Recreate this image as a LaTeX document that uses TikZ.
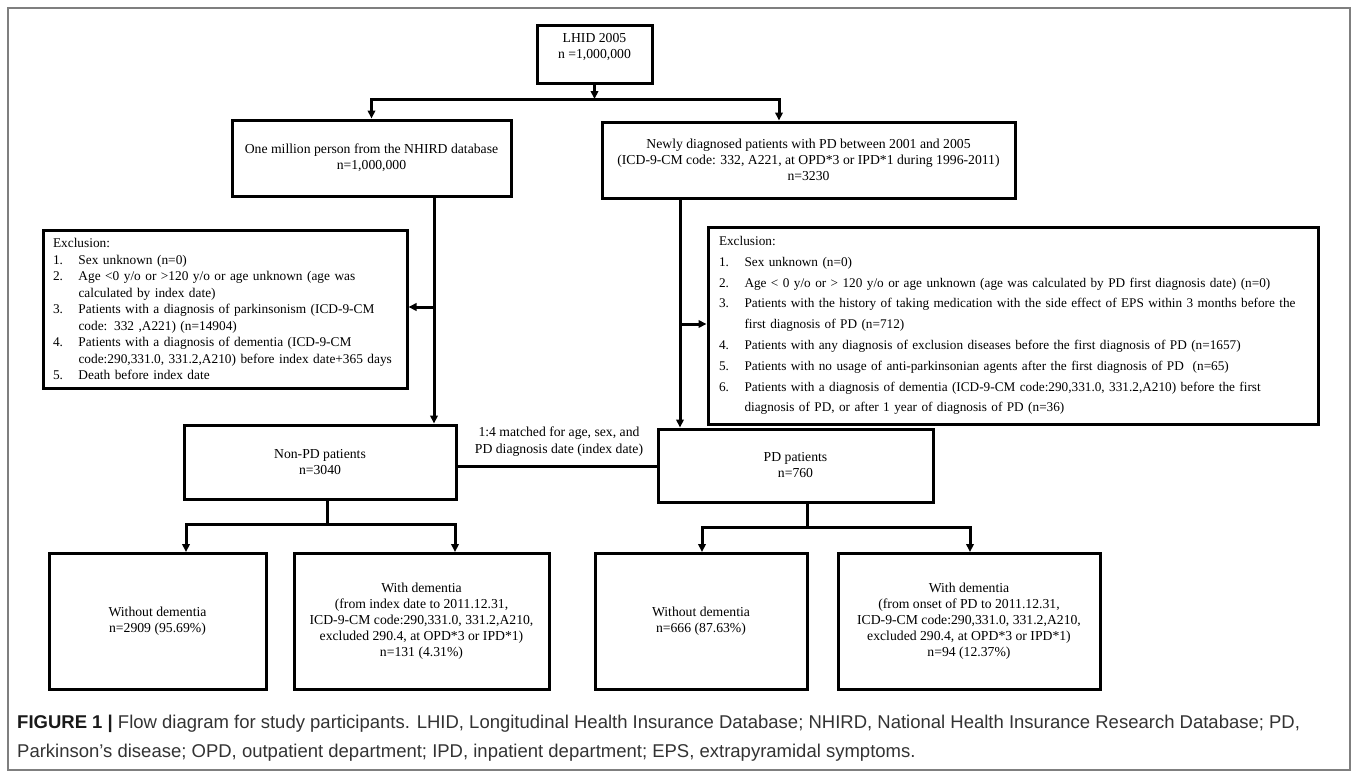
\documentclass[tikz,border=0pt]{standalone}
\usepackage{fontspec}
\setmainfont{Liberation Serif}
\newfontfamily\legenda{Liberation Sans}
\usetikzlibrary{arrows.meta}

% item numerado das caixas de exclusao
\newcommand{\excl}[2]{\mbox{\makebox[25.5pt][l]{#1}#2}}

\begin{document}
\begin{tikzpicture}[x=1pt, y=-1pt,
        caixa/.style={draw=black, line width=3pt, align=center, inner sep=4pt,
            font=\fontsize{13.7}{16}\selectfont},
        linha/.style={line width=3pt},
        seta/.style={line width=3pt, -{Triangle[length=8pt, width=7.5pt]}}]
        % Cores
        \definecolor{moldura}{HTML}{7F7F7F}
        \definecolor{textolegenda}{HTML}{333333}

        \useasboundingbox (0,0) rectangle (1357,777);

        % Moldura da figura
        \draw[moldura, line width=1.3pt] (8,8) rectangle (1350,770);

        % Caixas do topo
        \node[caixa, minimum width=115pt, minimum height=58pt] (lhid) at (594.5,54) {LHID 2005\\n =1,000,000\\[1pt]\mbox{}};
        \node[caixa, minimum width=279pt, minimum height=76pt] (onem) at (371.5,158) {One million person from the NHIRD database\\n=1,000,000};
        \node[caixa, minimum width=413pt, minimum height=76pt] (newpd) at (808.5,160) {Newly diagnosed patients with PD between 2001 and 2005\\(ICD-9-CM code: 332, A221, at OPD*3 or IPD*1 during 1996-2011)\\n=3230};

        % Caixas de exclusao
        \node[caixa, align=left, text width=344pt, inner xsep=10pt, minimum height=158pt,
            font=\fontsize{13.35}{16.5}\selectfont] (exl) at (225,309) {%
            Exclusion:\\
            \excl{1.}{Sex unknown (n=0)}\\
            \excl{2.}{Age <0 y/o or >120 y/o or age unknown (age was}\\
            \excl{}{calculated by index date)}\\
            \excl{3.}{Patients with a diagnosis of parkinsonism (ICD-9-CM}\\
            \excl{}{code: 332 ,A221) (n=14904)}\\
            \excl{4.}{Patients with a diagnosis of dementia (ICD-9-CM}\\
            \excl{}{code:290,331.0, 331.2,A210) before index date+365 days}\\
            \excl{5.}{Death before index date}};
        \node[caixa, align=left, text width=588pt, inner xsep=11pt, minimum height=197pt,
            font=\fontsize{13.25}{20.8}\selectfont] (exr) at (1013,325.5) {%
            Exclusion:\\
            \excl{1.}{Sex unknown (n=0)}\\
            \excl{2.}{Age < 0 y/o or > 120 y/o or age unknown (age was calculated by PD first diagnosis date) (n=0)}\\
            \excl{3.}{Patients with the history of taking medication with the side effect of EPS within 3 months before the}\\
            \excl{}{first diagnosis of PD (n=712)}\\
            \excl{4.}{Patients with any diagnosis of exclusion diseases before the first diagnosis of PD (n=1657)}\\
            \excl{5.}{Patients with no usage of anti-parkinsonian agents after the first diagnosis of PD\ \ (n=65)}\\
            \excl{6.}{Patients with a diagnosis of dementia (ICD-9-CM code:290,331.0, 331.2,A210) before the first}\\
            \excl{}{diagnosis of PD, or after 1 year of diagnosis of PD (n=36)}};

        % Grupos pareados
        \node[caixa, minimum width=272pt, minimum height=74pt] (nonpd) at (320,462) {Non-PD patients\\n=3040};
        \node[caixa, minimum width=275pt, minimum height=73pt] (pd) at (795.5,465.5) {PD patients\\n=760};
        \node[align=center, font=\fontsize{13.7}{17}\selectfont] (pareio) at (559,441.5) {1:4 matched for age, sex, and\\PD diagnosis date (index date)};

        % Desfechos: {nome/centro x/largura/texto}
        \foreach \nome/\cx/\w/\txt in {
            semA/157.5/217/{Without dementia\\n=2909 (95.69\%)},
            comA/421.5/255/{With dementia\\(from index date to 2011.12.31,\\ICD-9-CM code:290,331.0, 331.2,A210,\\excluded 290.4, at OPD*3 or IPD*1)\\n=131 (4.31\%)},
            semB/701/212/{Without dementia\\n=666 (87.63\%)},
            comB/969/262/{With dementia\\(from onset of PD to 2011.12.31,\\ICD-9-CM code:290,331.0, 331.2,A210,\\excluded 290.4, at OPD*3 or IPD*1)\\n=94 (12.37\%)}} {
            \node[caixa, minimum width=\w pt, minimum height=136pt] (\nome) at (\cx,621.5) {\txt};
        }

        % Pontos de juncao
        \coordinate (topo) at (594.5,99);
        \coordinate (topodir) at (779,99);
        \coordinate (exesq) at (434,307);
        \coordinate (exdir) at (680,324);
        \coordinate (pareio-y) at (557,466);
        \coordinate (ramoA) at (327,524);
        \coordinate (ramoA1) at (186,524);
        \coordinate (ramoA2) at (455,524);
        \coordinate (ramoB) at (807,527);
        \coordinate (ramoB1) at (702,527);
        \coordinate (ramoB2) at (970,527);

        % Conectores
        \draw[seta] (lhid) -- (topo);
        \draw[seta] (topo) -| (onem.north);
        \draw[seta] (topo) -| (topodir |- newpd.north);
        \draw[seta] (onem.south -| exesq) -- (nonpd.north -| exesq);
        \draw[seta] (exesq) -- (exl.east |- exesq);
        \draw[seta] (newpd.south -| exdir) -- (pd.north -| exdir);
        \draw[seta] (exdir) -- (exr.west |- exdir);
        \draw[linha] (nonpd.east |- pareio-y) -- (pd.west |- pareio-y);
        \draw[linha] (nonpd.south -| ramoA) -- (ramoA);
        \draw[seta] (ramoA) -| (ramoA1 |- semA.north);
        \draw[seta] (ramoA) -| (ramoA2 |- comA.north);
        \draw[linha] (pd.south -| ramoB) -- (ramoB);
        \draw[seta] (ramoB) -| (ramoB1 |- semB.north);
        \draw[seta] (ramoB) -| (ramoB2 |- comB.north);

        % Legenda
        \node[anchor=west, align=left, inner sep=0pt, text=textolegenda,
            font=\legenda\fontsize{18.5}{29}\selectfont] (legenda) at (17,738.5)
            {{\color{black!90}\textbf{FIGURE 1 |}} Flow diagram for study participants. LHID, Longitudinal Health Insurance Database; NHIRD, National Health Insurance Research Database; PD,\\Parkinson’s disease; OPD, outpatient department; IPD, inpatient department; EPS, extrapyramidal symptoms.};
    \end{tikzpicture}
\end{document}
